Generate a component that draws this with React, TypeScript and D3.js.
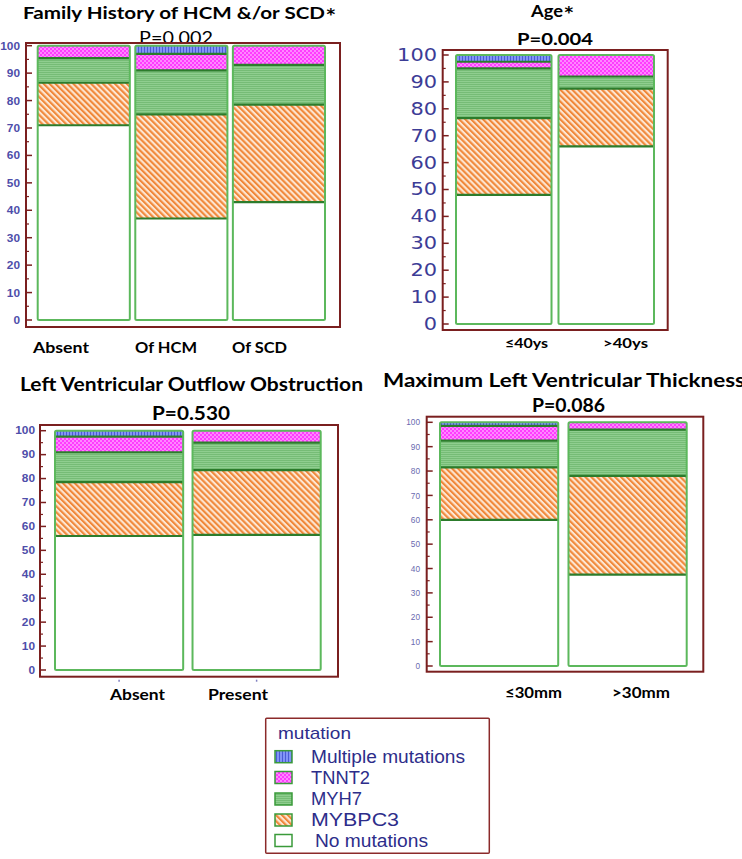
import React from "react";
import * as d3 from "d3";

// ---------- DATA ----------
const seriesKeys = ["none", "mybpc3", "myh7", "tnnt2", "multiple"];
const seriesLabels = ["No mutations", "MYBPC3", "MYH7", "TNNT2", "Multiple mutations"];

const famCategories = ["Absent", "Of HCM", "Of SCD"];
const famNone = [71, 37, 43];
const famMybpc3 = [15.5, 38, 35.5];
const famMyh7 = [9, 16, 14.5];
const famTnnt2 = [4.5, 6, 7];
const famMultiple = [0, 3, 0];

const ageCategories = ["≤40ys", ">40ys"];
const ageNone = [48, 66];
const ageMybpc3 = [28.5, 21.5];
const ageMyh7 = [18.5, 4.5];
const ageTnnt2 = [2.5, 8];
const ageMultiple = [2.5, 0];

const lvotCategories = ["Absent", "Present"];
const lvotNone = [56, 56.5];
const lvotMybpc3 = [22.5, 27];
const lvotMyh7 = [12.5, 11.5];
const lvotTnnt2 = [6.5, 5];
const lvotMultiple = [2.5, 0];

const mlvtCategories = ["≤30mm", ">30mm"];
const mlvtNone = [60, 37.5];
const mlvtMybpc3 = [21.5, 40.5];
const mlvtMyh7 = [11, 19];
const mlvtTnnt2 = [6, 3];
const mlvtMultiple = [1.5, 0];

const yTickValues = [0, 10, 20, 30, 40, 50, 60, 70, 80, 90, 100];

// ---------- LAYOUT ----------
const fills: Record<string, string> = {
  none: "#ffffff",
  mybpc3: "url(#pOrange)",
  myh7: "url(#pGreen)",
  tnnt2: "url(#pMagenta)",
  multiple: "url(#pBlue)",
};

type Panel = {
  title: string;
  star: boolean;
  p: string;
  pBold: boolean;
  categories: string[];
  values: number[][];
  frame: [number, number, number, number];
  yRange: [number, number];
  xRange: [number, number];
  padInner: number;
  titleX: number; titleW: number; titleY: number; titleSize: number;
  pX: number; pW: number; pY: number; pSize: number;
  tickFont: string; tickSize: number; tickWeight: string; tickColor: string; tickRight: number; tickDigitW: number;
  labelX: number[]; labelW: number[]; labelY: number; labelSize: number;
  xTicks: boolean;
};

const panels: Panel[] = [
  {
    title: "Family History of HCM &/or SCD", star: true, p: "P=0.002", pBold: false,
    categories: famCategories,
    values: [famNone, famMybpc3, famMyh7, famTnnt2, famMultiple],
    frame: [26, 43, 340, 327], yRange: [320, 45.7], xRange: [37.7, 325], padInner: 0.056,
    titleX: 23, titleW: 302, titleY: 19, titleSize: 17.5,
    pX: 139, pW: 74, pY: 44, pSize: 17,
    tickFont: "Liberation Sans, Arial, sans-serif", tickSize: 11.5, tickWeight: "bold", tickColor: "#4e4eaa", tickRight: 20, tickDigitW: 6.6,
    labelX: [33, 135, 232], labelW: [56, 62, 55], labelY: 353, labelSize: 15,
    xTicks: false,
  },
  {
    title: "Age", star: true, p: "P=0.004", pBold: true,
    categories: ageCategories,
    values: [ageNone, ageMybpc3, ageMyh7, ageTnnt2, ageMultiple],
    frame: [442.7, 50, 667.7, 330], yRange: [324, 55], xRange: [456, 654], padInner: 0.068,
    titleX: 531, titleW: 32, titleY: 17, titleSize: 17.5,
    pX: 517, pW: 76, pY: 45, pSize: 17,
    tickFont: "DejaVu Sans, sans-serif", tickSize: 17, tickWeight: "normal", tickColor: "#3c3c96", tickRight: 437, tickDigitW: 13.3,
    labelX: [505, 603], labelW: [43, 45], labelY: 348, labelSize: 14,
    xTicks: false,
  },
  {
    title: "Left Ventricular Outflow Obstruction", star: false, p: "P=0.530", pBold: true,
    categories: lvotCategories,
    values: [lvotNone, lvotMybpc3, lvotMyh7, lvotTnnt2, lvotMultiple],
    frame: [40, 425, 338, 676.7], yRange: [670, 430.7], xRange: [55, 320.7], padInner: 0.068,
    titleX: 20, titleW: 343, titleY: 391, titleSize: 18,
    pX: 152, pW: 78, pY: 420, pSize: 18,
    tickFont: "Liberation Sans, Arial, sans-serif", tickSize: 10, tickWeight: "bold", tickColor: "#4e4eaa", tickRight: 35, tickDigitW: 6.6,
    labelX: [110, 208], labelW: [55, 60], labelY: 700, labelSize: 15,
    xTicks: true,
  },
  {
    title: "Maximum Left Ventricular Thickness", star: false, p: "P=0.086", pBold: true,
    categories: mlvtCategories,
    values: [mlvtNone, mlvtMybpc3, mlvtMyh7, mlvtTnnt2, mlvtMultiple],
    frame: [426.7, 416.7, 703.3, 671.7], yRange: [666, 422.3], xRange: [440, 686.7], padInner: 0.08,
    titleX: 383, titleW: 362, titleY: 387, titleSize: 18,
    pX: 532, pW: 73, pY: 412, pSize: 18,
    tickFont: "Liberation Sans, Arial, sans-serif", tickSize: 9, tickWeight: "normal", tickColor: "#6a6ab0", tickRight: 420, tickDigitW: 4.6,
    labelX: [505, 612], labelW: [57, 58], labelY: 698, labelSize: 15,
    xTicks: false,
  },
];

const titleFont = "Lato, 'Open Sans', sans-serif";
const frameColor = "#7a1f1f";
const sepColor = "#2c7c2c";
const outlineColor = "#5cb85c";

function PanelView({ p }: { p: Panel }) {
  const rows = p.categories.map((c, i) => {
    const r: any = { category: c };
    seriesKeys.forEach((k, si) => (r[k] = p.values[si][i]));
    return r;
  });
  const stacked = d3.stack().keys(seriesKeys)(rows);
  const y = d3.scaleLinear().domain([0, 100]).range(p.yRange);
  const x = d3.scaleBand().domain(p.categories).range(p.xRange).paddingInner(p.padInner).paddingOuter(0);
  const [fx0, fy0, fx1, fy1] = p.frame;
  const minor = d3.range(5, 100, 10);
  return (
    <g>
      <text x={p.titleX} y={p.titleY} textLength={p.titleW} lengthAdjust="spacingAndGlyphs" fontFamily={titleFont} fontWeight="bold" fontSize={p.titleSize} fill="#000">
        {p.title}
      </text>
      {p.star ? (
        <text x={p.titleX + p.titleW + 1.5} y={p.titleY + 1} fontFamily="DejaVu Sans, sans-serif" fontWeight="bold" fontSize={p.titleSize * 0.95} fill="#000">
          *
        </text>
      ) : null}
      <text x={p.pX} y={p.pY} textLength={p.pW} lengthAdjust="spacingAndGlyphs" fontFamily={titleFont} fontWeight={p.pBold ? "bold" : "normal"} fontSize={p.pSize} fill="#000">
        {p.p}
      </text>
      {/* frame */}
      <rect x={fx0} y={fy0} width={fx1 - fx0} height={fy1 - fy0} fill="#fff" stroke={frameColor} strokeWidth={2} />
      {/* y ticks */}
      {yTickValues.map((t) => (
        <g key={"t" + t}>
          <line x1={fx0} x2={fx0 + 6} y1={y(t)} y2={y(t)} stroke={frameColor} strokeWidth={1.5} />
          <text x={p.tickRight} y={y(t)} dy="0.35em" textAnchor="end" textLength={String(t).length * p.tickDigitW} lengthAdjust="spacingAndGlyphs" fontFamily={p.tickFont} fontSize={p.tickSize} fontWeight={p.tickWeight} fill={p.tickColor}>
            {t}
          </text>
        </g>
      ))}
      {minor.map((t) => (
        <line key={"m" + t} x1={fx0} x2={fx0 + 3} y1={y(t)} y2={y(t)} stroke={frameColor} strokeWidth={1.2} />
      ))}
      {/* segments */}
      {stacked.map((layer) =>
        layer.map((d: any, i: number) => {
          const h = y(d[0]) - y(d[1]);
          if (h <= 0) return null;
          return (
            <rect key={layer.key + i} x={x(p.categories[i])} y={y(d[1])} width={x.bandwidth()} height={h} fill={fills[layer.key]} />
          );
        })
      )}
      {/* separators */}
      {stacked.map((layer) =>
        layer.map((d: any, i: number) => {
          if (d[1] >= 100 || d[1] - d[0] <= 0) return null;
          return (
            <line key={"s" + layer.key + i} x1={x(p.categories[i])} x2={(x(p.categories[i]) as number) + x.bandwidth()} y1={y(d[1])} y2={y(d[1])} stroke={sepColor} strokeWidth={2.2} />
          );
        })
      )}
      {/* outlines */}
      {p.categories.map((c) => (
        <rect key={"o" + c} x={x(c)} y={y(100)} width={x.bandwidth()} height={y(0) - y(100)} fill="none" stroke={outlineColor} strokeWidth={2} rx={1.5} />
      ))}
      {p.xTicks
        ? p.categories.map((c) => (
            <line key={"xt" + c} x1={(x(c) as number) + x.bandwidth() / 2} x2={(x(c) as number) + x.bandwidth() / 2} y1={fy1 + 3} y2={fy1 + 5} stroke="#8080c0" strokeWidth={1.5} />
          ))
        : null}
      {p.categories.map((c, i) => (
        <text key={"l" + c} x={p.labelX[i]} y={p.labelY} textLength={p.labelW[i]} lengthAdjust="spacingAndGlyphs" fontFamily={titleFont} fontWeight="bold" fontSize={p.labelSize} fill="#000">
          {c}
        </text>
      ))}
    </g>
  );
}

const legendOrder = [4, 3, 2, 1, 0];
const legendTextW = [113, 88, 51, 59, 154];

export default function App() {
  const legendY = [756.7, 777.5, 799, 820, 840.5];
  const legendFont = "Liberation Sans, Arial, sans-serif";
  return (
    <svg width={742} height={859} style={{ position: "absolute", left: 0, top: 0, background: "#fff" }}>
      <defs>
        <pattern id="pOrange" width={4.2} height={4.2} patternUnits="userSpaceOnUse" patternTransform="rotate(-45)">
          <rect width={4.2} height={4.2} fill="#fde6d2" />
          <rect width={2.1} height={4.2} fill="#f0883a" />
        </pattern>
        <pattern id="pGreen" width={4} height={2} patternUnits="userSpaceOnUse">
          <rect width={4} height={2} fill="#8fce8f" />
          <rect width={4} height={0.8} fill="#70b870" />
        </pattern>
        <pattern id="pMagenta" width={4} height={4} patternUnits="userSpaceOnUse">
          <rect width={4} height={4} fill="#ff3cff" />
          <rect x={0.3} y={0.3} width={1.4} height={1.4} fill="#ffd6ff" />
          <rect x={2.3} y={2.3} width={1.4} height={1.4} fill="#ffd6ff" />
        </pattern>
        <pattern id="pBlue" width={3} height={3} patternUnits="userSpaceOnUse">
          <rect width={3} height={3} fill="#8294f6" />
          <rect width={1} height={3} fill="#4a5cd6" />
        </pattern>
      </defs>
      {panels.map((p, i) => (
        <PanelView key={i} p={p} />
      ))}
      {/* legend */}
      <rect x={265.7} y={718.3} width={223.6} height={135} fill="#fff" stroke="#8b2a2a" strokeWidth={1.5} rx={1} />
      <text x={278} y={733} dy="0.35em" textLength={73} lengthAdjust="spacingAndGlyphs" fontFamily={legendFont} fontSize={17} fill="#2d2d8a">
        mutation
      </text>
      {legendOrder.map((si, j) => (
        <g key={"lg" + si}>
          <rect x={275} y={legendY[j] - 6} width={17} height={12} fill={fills[seriesKeys[si]]} stroke="#3a9a3a" strokeWidth={1.5} />
          <text x={si === 0 ? 315 : 311} y={legendY[j]} dy="0.35em" textLength={legendTextW[si]} lengthAdjust="spacingAndGlyphs" fontFamily={legendFont} fontSize={17.5} fill="#2d2d8a">
            {seriesLabels[si]}
          </text>
        </g>
      ))}
    </svg>
  );
}
